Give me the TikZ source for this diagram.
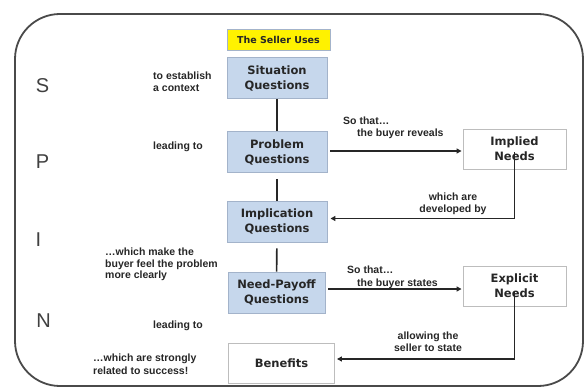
\documentclass[tikz,border=0pt]{standalone}
\usepackage{fontspec}
\setmainfont{Liberation Sans}
\newfontfamily\boxfont{DejaVu Sans}
\usetikzlibrary{arrows.meta}
\definecolor{qblue}{HTML}{C6D7EC}
\definecolor{qedge}{HTML}{A3B3CA}
\definecolor{wedge}{HTML}{BDBDBD}
\definecolor{frame}{HTML}{4A4A4A}
\definecolor{ink}{HTML}{262626}
\begin{document}
\begin{tikzpicture}[x=1pt,y=-1pt,
  qbox/.style={draw=qedge,fill=qblue,line width=0.9pt,minimum width=100pt,minimum height=41pt,inner sep=1pt,align=center,font=\boxfont\fontsize{11.5}{15}\selectfont\bfseries,text=ink},
  wbox/.style={draw=wedge,fill=white,line width=0.9pt,minimum width=103pt,minimum height=40pt,inner sep=1pt,align=center,font=\boxfont\fontsize{11.5}{15}\selectfont\bfseries,text=ink},
  lbl/.style={font=\fontsize{10.5}{12.5}\selectfont\bfseries,text=ink,inner sep=0pt},
  letter/.style={font=\fontsize{20}{22}\selectfont,text=black!75,inner sep=0pt},
  conn/.style={line width=1.6pt,draw=ink},
  arr/.style={conn,-{Triangle[length=5pt,width=5pt]}}]
\useasboundingbox (0,0) rectangle (588,390);
\draw[frame,line width=1.8pt,rounded corners=45pt] (15,14) rectangle (583,386);

\node[draw=qedge,fill=yellow,line width=0.9pt,minimum width=103pt,minimum height=21pt,inner sep=1pt,font=\boxfont\fontsize{9.5}{11}\selectfont\bfseries,text=ink] (seller) at (278.5,39.5) {The Seller Uses};

\node[qbox] (sit) at (277,78) {Situation\\Questions};
\node[qbox] (prob) at (277,152) {Problem\\Questions};
\node[qbox] (impl) at (277,221.5) {Implication\\Questions};
\node[qbox,minimum width=97pt] (need) at (276.5,292.5) {Need-Payoff\\Questions};
\node[wbox,minimum width=106pt] (ben) at (281.5,363) {Benefits};
\node[wbox] (implied) at (514.5,149) {Implied\\Needs};
\node[wbox] (expl) at (514.5,286) {Explicit\\Needs};

\node[letter] (S) at (42.5,86) {S};
\node[letter] (P) at (42.5,162) {P};
\node[letter] (I) at (38.5,240) {I};
\node[letter] (N) at (43.5,321) {N};

\node[lbl,align=left,anchor=west] (l1) at (153,81.5) {to establish\\a context};
\node[lbl,anchor=west] (l2) at (153,147) {leading to};
\node[lbl,align=left,anchor=west,font=\fontsize{10.5}{11.7}\selectfont\bfseries] (l3) at (105,264.5) {\dots which make the\\buyer feel the problem\\more clearly};
\node[lbl,anchor=west] (l4) at (153,326) {leading to};
\node[lbl,align=left,anchor=west] (l5) at (93,364) {\dots which are strongly\\related to success!};
\node[lbl,align=left,anchor=west] (l6) at (343,128) {So that\dots\\\hspace*{14pt}the buyer reveals};
\node[lbl,align=center] (l7) at (453,204) {which are\\developed by};
\node[lbl,align=left,anchor=west] (l8) at (347,277.5) {So that\dots\\\hspace*{10pt}the buyer states};
\node[lbl,align=center,font=\fontsize{10.5}{11.5}\selectfont\bfseries] (l9) at (428,341.5) {allowing the\\seller to state};

\coordinate (c1) at ([yshift=17pt]implied.south);
\coordinate (c2) at ([yshift=15pt]expl.south);

\draw[conn] (sit) -- (prob);
\draw[conn,shorten <=6pt] (prob) -- (impl);
\draw[conn,shorten <=6pt] (impl) -- (need);
\draw[arr,shorten <=3pt,shorten >=1pt] ([yshift=1pt]prob.east) -- ([yshift=1pt]prob.east -| implied.west);
\draw[arr,shorten <=3pt,shorten >=1pt] ([yshift=3.5pt]need.east) -- ([yshift=3.5pt]need.east -| expl.west);
\draw[arr,shorten >=3pt] (c1) |- ([yshift=3pt]impl.east);
\draw[arr,shorten >=2pt] (c2) |- ([yshift=4pt]ben.east);
\end{tikzpicture}
\end{document}
